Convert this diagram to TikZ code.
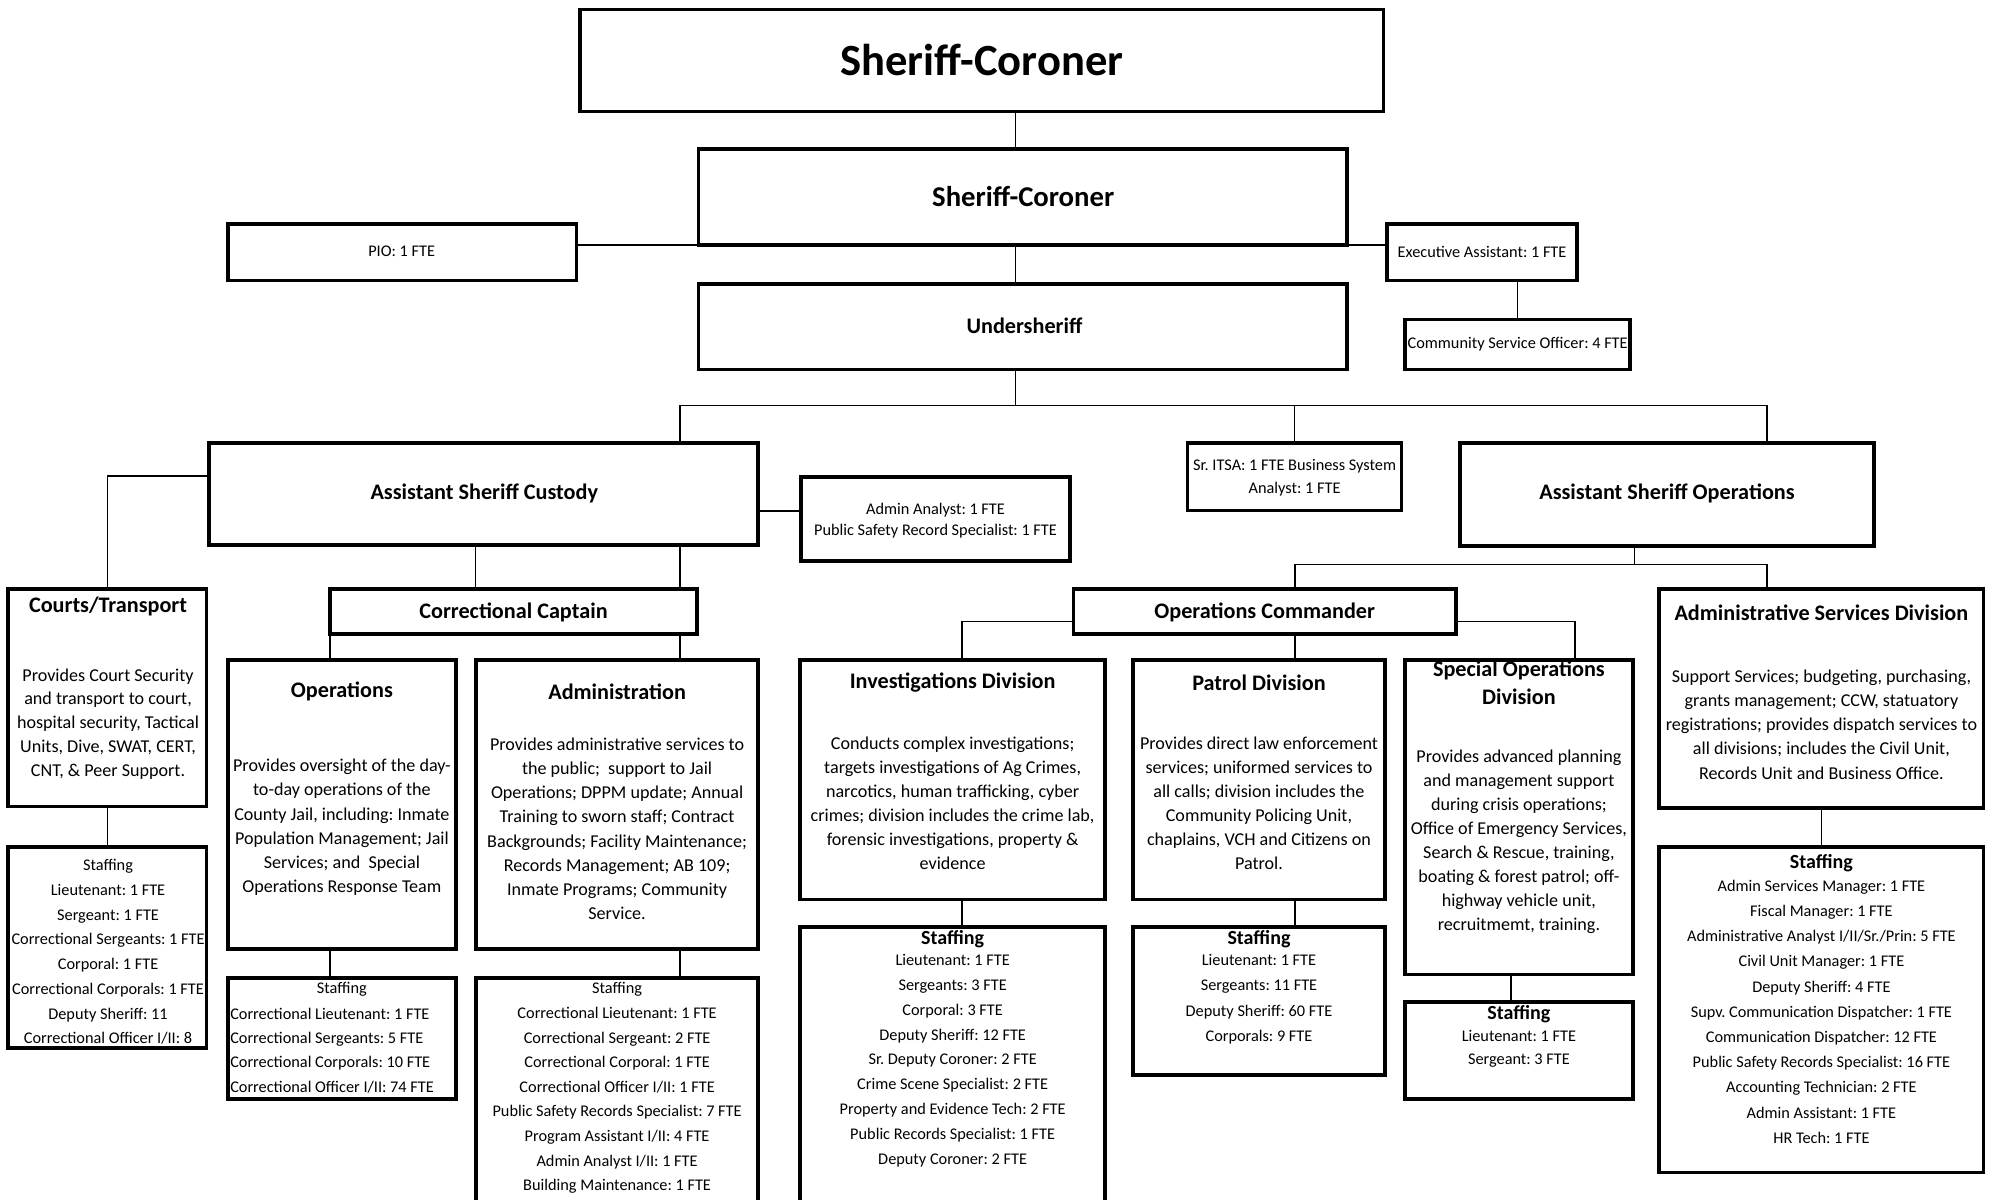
\documentclass[tikz,border=0pt]{standalone}
\usepackage{fontspec}
\setmainfont{Carlito}
\frenchspacing

% a box given by its outer corners (x1,y1) and (x2,y2), in layout units
\newcommand\orgnode[6][]{%
  \node[box,#1,minimum width={(#5-#3)*1.271pt-3.6pt},minimum height={(#6-#4)*1.271pt-3.6pt}]
    (#2) at ({(#3+#5)/2},{(#4+#6)/2}) {};}

\tikzset{
  box/.style={draw, line width=3.6pt, fill=white, inner sep=0pt, outer sep=0pt},
  link/.style={line width=1.7pt},
  txt/.style={inner sep=0pt, align=center},
  small/.style={txt, font=\fontsize{16.3}{#1}\selectfont},
  small/.default=24.7,
  desc/.style={txt, font=\fontsize{18.1}{#1}\selectfont},
  desc/.default=24.2,
  ttl/.style={txt, font=\fontsize{22.2}{#1}\selectfont\bfseries},
  ttl/.default=28,
  stf/.style={txt, font=\fontsize{20}{24}\selectfont\bfseries},
}

\begin{document}
\begin{tikzpicture}[x=1.271pt,y=-1.271pt]
\useasboundingbox (0,0) rectangle (1568,944);
\fill[white] (0,0) rectangle (1568,944);

% ---- boxes ----
\orgnode{top}{455}{6}{1090}{89}
\orgnode{sc}{548}{116}{1061}{194}
\orgnode{pio}{178}{175}{455}{222}
\orgnode{exec}{1090}{175}{1242}{222}
\orgnode{cso}{1104}{250}{1284}{292}
\orgnode{under}{548}{222}{1061}{292}
\orgnode{asc}{163}{347}{598}{430}
\orgnode{aa}{629}{374}{843}{443}
\orgnode{itsa}{933}{347}{1104}{403}
\orgnode{aso}{1147}{347}{1476}{431}
\orgnode{courts}{5}{462}{164}{636}
\orgnode{courtsst}{5}{665}{164}{826}
\orgnode{capt}{258}{462}{550}{500}
\orgnode{ops}{178}{518}{360}{748}
\orgnode{opsst}{178}{768}{360}{866}
\orgnode{adm}{373}{518}{598}{748}
\orgnode{admst}{373}{768}{598}{960}
\orgnode{oc}{843}{462}{1147}{500}
\orgnode{inv}{628}{518}{871}{709}
\orgnode{invst}{628}{728}{871}{960}
\orgnode{pat}{890}{518}{1091}{709}
\orgnode{patst}{890}{728}{1091}{847}
\orgnode{spo}{1104}{518}{1286}{768}
\orgnode{spost}{1104}{787}{1286}{866}
\orgnode{asd}{1304}{462}{1562}{637}
\orgnode{asdst}{1304}{665}{1562}{924}

% ---- junction points of the connector lines ----
\coordinate (trunk) at (799,0);
\coordinate (busL) at (535,319);
\coordinate (busR) at (1390,319);
\coordinate (aalink) at (0,402);
\coordinate (ctlink) at (0,374.5);
\coordinate (captx) at (374,0);
\coordinate (ocx) at (1019,444);
\coordinate (asodrop) at (1286,444);
\coordinate (invx) at (757,489);
\coordinate (spox) at (1239,489);
\coordinate (spostx) at (1189,0);

% ---- connectors ----
\draw[link] (trunk |- top.south) -- (trunk |- sc.north);
\draw[link] (trunk |- sc.south) -- (trunk |- under.north);
\draw[link] (sc.south west) -- (sc.south west -| pio.east);
\draw[link] (sc.south east) -- (sc.south east -| exec.west);
\draw[link] (cso.north |- exec.south) -- (cso.north);
\draw[link] (trunk |- under.south) -- (trunk |- busL);
\draw[link] (busL) -- (busR);
\draw[link] (busL) -- (busL |- asc.north);
\draw[link] (itsa.north |- busL) -- (itsa.north);
\draw[link] (busR) -- (busR |- aso.north);
\draw[link] (asc.east |- aalink) -- (aa.west |- aalink);
\draw[link] (asc.west |- ctlink) -| (courts.north);
\draw[link] (courts.south) -- (courtsst.north);
\draw[link] (captx |- asc.south) -- (captx |- capt.north);
\draw[link] (busL |- asc.south) -- (busL |- capt.north);
\draw[link] (busL |- capt.south) -- (busL |- adm.north);
\draw[link] (busL |- adm.south) -- (busL |- admst.north);
\draw[link] (capt.south west) -- (capt.south west |- ops.north);
\draw[link] (capt.south west |- ops.south) -- (capt.south west |- opsst.north);
\draw[link] (asodrop |- aso.south) -- (asodrop);
\draw[link] (ocx) -- (busR |- ocx);
\draw[link] (ocx) -- (ocx |- oc.north);
\draw[link] (busR |- ocx) -- (busR |- asd.north);
\draw[link] (ocx |- oc.south) -- (ocx |- pat.north);
\draw[link] (ocx |- pat.south) -- (ocx |- patst.north);
\draw[link] (oc.west |- invx) -- (invx) -- (invx |- inv.north);
\draw[link] (invx |- inv.south) -- (invx |- invst.north);
\draw[link] (oc.east |- spox) -- (spox) -- (spox |- spo.north);
\draw[link] (spostx |- spo.south) -- (spostx |- spost.north);
\draw[link] (asd.south) -- (asdst.north);

% ---- executive level ----
\node[txt, font=\fontsize{44.6}{50}\selectfont\bfseries] (t-top) at (772.5,47) {Sheriff-Coroner};
\node[txt, font=\fontsize{28.7}{34}\selectfont\bfseries] (t-sc) at (805,155) {Sheriff-Coroner};
\node[ttl] (t-under) at (806,256) {Undersheriff};
\node[small] (t-pio) at (316,198) {PIO: 1 FTE};
\node[small] (t-exec) at (1166,198) {Executive Assistant: 1 FTE};
\node[small] (t-cso) at (1194,271) {Community Service Officer: 4 FTE};

% ---- assistant sheriffs ----
\node[ttl] (t-asc) at (381,388) {Assistant Sheriff Custody};
\node[small=21.6] (t-aa) at (736,409.5) {Admin Analyst: 1 FTE\\Public Safety Record Specialist: 1 FTE};
\node[small=23] (t-itsa) at (1018.5,376) {Sr. ITSA: 1 FTE Business System\\Analyst: 1 FTE};
\node[ttl] (t-aso) at (1311.5,388) {Assistant Sheriff Operations};

% ---- custody branch ----
\node[ttl] (t-courts) at (85,477) {Courts/Transport};
\node[desc=23.8] (d-courts) at (85,569.5) {Provides Court Security\\and transport to court,\\hospital security, Tactical\\Units, Dive, SWAT, CERT,\\CNT, \& Peer Support.};
\node[small=24.7] (s-courts) at (85,749) {Staffing\\Lieutenant: 1 FTE\\Sergeant: 1 FTE\\Correctional Sergeants: 1 FTE\\Corporal: 1 FTE\\Correctional Corporals: 1 FTE\\Deputy Sheriff: 11\\Correctional Officer I/II: 8};

\node[ttl] (t-capt) at (404,482) {Correctional Captain};

\node[ttl] (t-ops) at (269,544) {Operations};
\node[desc=24.2] (d-ops) at (269,651) {Provides oversight of the day-\\to-day operations of the\\County Jail, including: Inmate\\Population Management; Jail\\Services; and\ \ Special\\Operations Response Team};
\node[small] (h-ops) at (269,778) {Staffing};
\node[small=24.2, anchor=west, align=left] (s-ops) at (181,826.5) {Correctional Lieutenant: 1 FTE\\Correctional Sergeants: 5 FTE\\Correctional Corporals: 10 FTE\\Correctional Officer I/II: 74 FTE};

\node[ttl] (t-adm) at (485.5,544) {Administration};
\node[desc=24.2] (d-adm) at (485.5,652) {Provides administrative services to\\the public;\ \ support to Jail\\Operations; DPPM update; Annual\\Training to sworn staff; Contract\\Backgrounds; Facility Maintenance;\\Records Management; AB 109;\\Inmate Programs; Community\\Service.};
\node[small=24.6] (s-adm) at (485.5,856) {Staffing\\Correctional Lieutenant: 1 FTE\\Correctional Sergeant: 2 FTE\\Correctional Corporal: 1 FTE\\Correctional Officer I/II: 1 FTE\\Public Safety Records Specialist: 7 FTE\\Program Assistant I/II: 4 FTE\\Admin Analyst I/II: 1 FTE\\Building Maintenance: 1 FTE};

% ---- operations branch ----
\node[ttl] (t-oc) at (995,482) {Operations Commander};

\node[ttl] (t-inv) at (749.5,537) {Investigations Division};
\node[desc=23.9] (d-inv) at (749.5,632) {Conducts complex investigations;\\targets investigations of Ag Crimes,\\narcotics, human trafficking, cyber\\crimes; division includes the crime lab,\\forensic investigations, property \&\\evidence};
\node[stf] (h-inv) at (749.5,739) {Staffing};
\node[small=24.9] (s-inv) at (749.5,834.5) {Lieutenant: 1 FTE\\Sergeants: 3 FTE\\Corporal: 3 FTE\\Deputy Sheriff: 12 FTE\\Sr. Deputy Coroner: 2 FTE\\Crime Scene Specialist: 2 FTE\\Property and Evidence Tech: 2 FTE\\Public Records Specialist: 1 FTE\\Deputy Coroner: 2 FTE};

\node[ttl] (t-pat) at (990.5,537) {Patrol Division};
\node[desc=23.9] (d-pat) at (990.5,632) {Provides direct law enforcement\\services; uniformed services to\\all calls; division includes the\\Community Policing Unit,\\chaplains, VCH and Citizens on\\Patrol.};
\node[stf] (h-pat) at (990.5,739) {Staffing};
\node[small=25.4] (s-pat) at (990.5,786) {Lieutenant: 1 FTE\\Sergeants: 11 FTE\\Deputy Sheriff: 60 FTE\\Corporals: 9 FTE};

\node[ttl=28] (t-spo) at (1195,537) {Special Operations\\Division};
\node[desc=24] (d-spo) at (1195,662) {Provides advanced planning\\and management support\\during crisis operations;\\Office of Emergency Services,\\Search \& Rescue, training,\\boating \& forest patrol; off-\\highway vehicle unit,\\recruitmemt, training.};
\node[stf] (h-spo) at (1195,798) {Staffing};
\node[small=23.5] (s-spo) at (1195,825) {Lieutenant: 1 FTE\\Sergeant: 3 FTE};

\node[ttl] (t-asd) at (1433,482) {Administrative Services Division};
\node[desc=24.2] (d-asd) at (1433,570) {Support Services; budgeting, purchasing,\\grants management; CCW, statuatory\\registrations; provides dispatch services to\\all divisions; includes the Civil Unit,\\Records Unit and Business Office.};
\node[stf] (h-asd) at (1433,679) {Staffing};
\node[small=25.2] (s-asd) at (1433,796) {Admin Services Manager: 1 FTE\\Fiscal Manager: 1 FTE\\Administrative Analyst I/II/Sr./Prin: 5 FTE\\Civil Unit Manager: 1 FTE\\Deputy Sheriff: 4 FTE\\Supv. Communication Dispatcher: 1 FTE\\Communication Dispatcher: 12 FTE\\Public Safety Records Specialist: 16 FTE\\Accounting Technician: 2 FTE\\Admin Assistant: 1 FTE\\HR Tech: 1 FTE};
\end{tikzpicture}
\end{document}
